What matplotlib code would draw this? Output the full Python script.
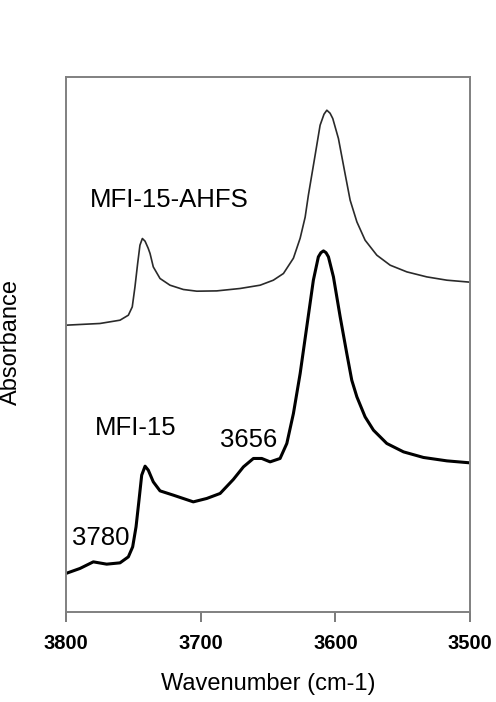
import matplotlib
matplotlib.use("Agg")
import matplotlib.pyplot as plt

plt.rcParams['font.family'] = ['Liberation Sans', 'DejaVu Sans']

# MFI-15-AHFS (upper trace), absorbance in arbitrary units
ahfs_wn = [3800, 3774.8, 3759.9, 3753.7, 3750.8, 3748.8, 3746.8, 3745.1, 3743.3, 3741.3,
           3739.0, 3737.6, 3735.2, 3730.2, 3722.8, 3712.9, 3702.9, 3688.1, 3670.8, 3655.9,
           3646.1, 3638.6, 3631.2, 3626.2, 3622.5, 3620.1, 3615.1, 3611.4, 3608.5, 3606.4,
           3604.0, 3602.0, 3597.8, 3592.8, 3589.1, 3584.1, 3578.0, 3569.3, 3559.4, 3547.0,
           3532.2, 3517.3, 3500]
ahfs_abs = [287, 288.7, 292, 297, 305.3, 325.3, 348.7, 367, 373.7, 371,
            364, 358.7, 345.3, 333.7, 327, 322.7, 321, 321.3, 323.7, 327,
            332, 338.7, 354, 374, 395, 417, 457, 487, 498, 502,
            499, 493.7, 473.7, 438, 412, 390.3, 372, 357, 347, 340.3,
            335.3, 332, 330]

# MFI-15 (lower trace)
mfi_wn = [3800, 3789.6, 3779.7, 3769.8, 3759.9, 3753.7, 3750.5, 3748.0, 3745.8, 3743.8,
          3741.3, 3738.9, 3735.2, 3730.2, 3720.3, 3705.5, 3695.5, 3685.6, 3675.8, 3668.3,
          3660.9, 3654.7, 3648.5, 3641.1, 3636.1, 3631.2, 3626.2, 3621.3, 3616.4, 3612.7,
          3610.8, 3608.9, 3607.0, 3605.2, 3601.5, 3596.5, 3591.6, 3587.9, 3584.1, 3578.0,
          3571.8, 3561.9, 3549.5, 3534.7, 3517.3, 3500]
mfi_abs = [38.7, 43.7, 50.3, 48, 49.3, 55.3, 65.3, 85.3, 112, 137,
           146, 142, 130.3, 121.3, 117, 110.3, 113.7, 118.7, 132.7, 145.3,
           153.7, 153.7, 150.3, 153.7, 168.7, 198.7, 238.7, 285.3, 332, 355.3,
           359.5, 361.3, 359.5, 355.3, 335.3, 295.3, 258.7, 232, 215.3, 195.3,
           182, 168.7, 160.3, 154.7, 151.3, 149.3]

xticks = [3800, 3700, 3600, 3500]

fig = plt.figure(figsize=(4.96, 7.02), dpi=100)
ax = fig.add_axes([0.133, 0.128, 0.815, 0.762])

ax.plot(ahfs_wn, ahfs_abs, color="#2a2a2a", lw=1.2, solid_joinstyle="round")
ax.plot(mfi_wn, mfi_abs, color="black", lw=2.2, solid_joinstyle="round")

ax.set_xlim(3800, 3500)
ax.set_ylim(0, 535)
ax.set_xticks(xticks)
ax.set_yticks([])
for lab in ax.get_xticklabels():
    lab.set_fontweight("bold")
ax.tick_params(axis="x", direction="out", length=7, width=1.3, color="#707070",
               labelsize=14.5, pad=9)
for s in ax.spines.values():
    s.set_color("#808080")
    s.set_linewidth(1.4)

ax.set_xlabel("Wavenumber (cm-1)", fontsize=17, labelpad=14)
ax.set_ylabel("Absorbance", fontsize=17)
ax.yaxis.set_label_coords(-0.109, 0.505)

ax.text(3782.2, 412, "MFI-15-AHFS", fontsize=18.5, va="center", ha="left")
ax.text(3778.5, 184, "MFI-15", fontsize=18.5, va="center", ha="left")
ax.text(3685.6, 172, "3656", fontsize=18.5, va="center", ha="left")
ax.text(3795.5, 74, "3780", fontsize=18.5, va="center", ha="left")

plt.savefig("out.png", dpi=100)
plt.close()
